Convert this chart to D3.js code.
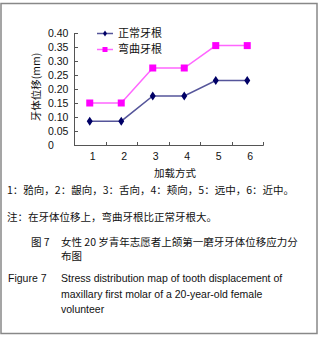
<!DOCTYPE html>
<html>
<head>
<meta charset="utf-8">
<script src="https://cdn.jsdelivr.net/npm/d3@7"></script>
<style>
  body { margin: 0; background: #fff; }
  svg { display: block; font-family: "Liberation Sans", Arial, "Noto Sans CJK SC", sans-serif; }
</style>
</head>
<body>
<svg id="chart" width="320" height="337"></svg>
<script>
'use strict';

// data
var aCategories = ['1', '2', '3', '4', '5', '6'];
var aNormal = [0.085, 0.085, 0.175, 0.175, 0.23, 0.23];
var aCurved = [0.15, 0.15, 0.275, 0.275, 0.355, 0.355];
var aYTicks = [0, 0.05, 0.10, 0.15, 0.20, 0.25, 0.30, 0.35, 0.40];
var aSeriesNames = ['正常牙根', '弯曲牙根'];

var svg = d3.select('#chart');
var cjk = '"Noto Sans CJK SC", sans-serif';

// frame
svg.append('rect')
    .attr('x', 1).attr('y', 3.5)
    .attr('width', 316).attr('height', 330)
    .attr('fill', 'none')
    .attr('stroke', '#888')
    .attr('stroke-width', 1.5);

var x = d3.scaleBand().domain(aCategories).range([74, 263]);
var y = d3.scaleLinear().domain([0, 0.40]).range([145, 33]);

// y axis
var gy = svg.append('g');
gy.append('line')
    .attr('x1', 74.5).attr('x2', 74.5)
    .attr('y1', y(0.40)).attr('y2', y(0))
    .attr('stroke', '#555');
gy.selectAll('line.tick')
  .data(aYTicks)
  .join('line')
    .attr('class', 'tick')
    .attr('x1', 74.5).attr('x2', 78)
    .attr('y1', d => Math.round(y(d)) + 0.5)
    .attr('y2', d => Math.round(y(d)) + 0.5)
    .attr('stroke', '#555');
gy.selectAll('text')
  .data(aYTicks)
  .join('text')
    .attr('x', 48)
    .attr('y', d => y(d))
    .attr('dy', '0.35em')
    .attr('font-size', 10.5)
    .attr('fill', '#111')
    .text(d => d == 0 ? '0' : d3.format('.2f')(d));

// x axis
var gx = svg.append('g');
gx.append('line')
    .attr('x1', 74).attr('x2', 263.5)
    .attr('y1', 145.5).attr('y2', 145.5)
    .attr('stroke', '#555');
gx.selectAll('line.tick')
  .data(aCategories)
  .join('line')
    .attr('class', 'tick')
    .attr('x1', d => Math.round(x(d) + x.bandwidth()) + 0.5)
    .attr('x2', d => Math.round(x(d) + x.bandwidth()) + 0.5)
    .attr('y1', 142).attr('y2', 145.5)
    .attr('stroke', '#555');
gx.selectAll('text')
  .data(aCategories)
  .join('text')
    .attr('x', d => x(d) + x.bandwidth() / 2 + 3)
    .attr('y', 160)
    .attr('text-anchor', 'middle')
    .attr('font-size', 10.5)
    .attr('fill', '#111')
    .text(d => d);

// axis titles
svg.append('text')
    .attr('transform', 'translate(36,87) rotate(-90)')
    .attr('text-anchor', 'middle')
    .attr('dy', '0.35em')
    .attr('font-size', 10.5)
    .style('font-family', cjk)
    .attr('fill', '#111')
    .text('牙体位移(mm)');
svg.append('text')
    .attr('x', 175).attr('y', 177)
    .attr('text-anchor', 'middle')
    .attr('font-size', 10.5)
    .style('font-family', cjk)
    .attr('fill', '#111')
    .text('加载方式');

// series
var cx = d => x(d) + x.bandwidth() / 2;
var line = d3.line()
    .x((d, i) => cx(aCategories[i]))
    .y(d => y(d));

var diamond = 'M0,-4.5L3,0L0,4.5L-3,0Z';

svg.append('path')
    .datum(aCurved)
    .attr('d', line)
    .attr('fill', 'none')
    .attr('stroke', '#ff66ff')
    .attr('stroke-width', 1.5);
svg.append('g').selectAll('rect')
  .data(aCurved)
  .join('rect')
    .attr('x', (d, i) => cx(aCategories[i]) - 3.5)
    .attr('y', d => y(d) - 3.5)
    .attr('width', 7).attr('height', 7)
    .attr('fill', '#ff00ff');

svg.append('path')
    .datum(aNormal)
    .attr('d', line)
    .attr('fill', 'none')
    .attr('stroke', '#55559a')
    .attr('stroke-width', 1.5);
svg.append('g').selectAll('path')
  .data(aNormal)
  .join('path')
    .attr('transform', (d, i) => `translate(${cx(aCategories[i])},${y(d)})`)
    .attr('d', diamond)
    .attr('fill', '#000066');

// legend
var lg = svg.append('g');
lg.append('line')
    .attr('x1', 97).attr('x2', 113).attr('y1', 33.5).attr('y2', 33.5)
    .attr('stroke', '#55559a').attr('stroke-width', 1.5);
lg.append('path')
    .attr('transform', 'translate(105,33.5)')
    .attr('d', 'M0,-3L2,0L0,3L-2,0Z')
    .attr('fill', '#000066');
lg.append('line')
    .attr('x1', 97).attr('x2', 113).attr('y1', 49.5).attr('y2', 49.5)
    .attr('stroke', '#ff66ff').attr('stroke-width', 1.5);
lg.append('rect')
    .attr('x', 102.5).attr('y', 47).attr('width', 5).attr('height', 5)
    .attr('fill', '#ff00ff');
lg.selectAll('text')
  .data(aSeriesNames)
  .join('text')
    .attr('x', 118)
    .attr('y', (d, i) => 33.5 + i * 16)
    .attr('dy', '0.35em')
    .attr('font-size', 11)
    .style('font-family', cjk)
    .attr('fill', '#111')
    .text(d => d);

// captions
var aCaption = [
  { t: '1：𬌗向，2：龈向，3：舌向，4：颊向，5：远中，6：近中。', x: 7, y: 194, cjk: true },
  { t: '注：在牙体位移上，弯曲牙根比正常牙根大。', x: 7, y: 221, cjk: true },
  { t: '图 7', x: 31, y: 246, cjk: true },
  { t: '女性 20 岁青年志愿者上颌第一磨牙牙体位移应力分', x: 61, y: 246, cjk: true },
  { t: '布图', x: 61, y: 260, cjk: true },
  { t: 'Figure 7', x: 8, y: 282, cjk: false },
  { t: 'Stress distribution map of tooth displacement of', x: 61, y: 282, cjk: false },
  { t: 'maxillary first molar of a 20-year-old female', x: 61, y: 298, cjk: false },
  { t: 'volunteer', x: 61, y: 313, cjk: false }
];
svg.append('g').selectAll('text')
  .data(aCaption)
  .join('text')
    .attr('x', d => d.x)
    .attr('y', d => d.y)
    .attr('font-size', 10.5)
    .style('font-family', d => d.cjk ? cjk : '"Liberation Sans", Arial, sans-serif')
    .attr('fill', '#111')
    .text(d => d.t);
</script>
</body>
</html>
